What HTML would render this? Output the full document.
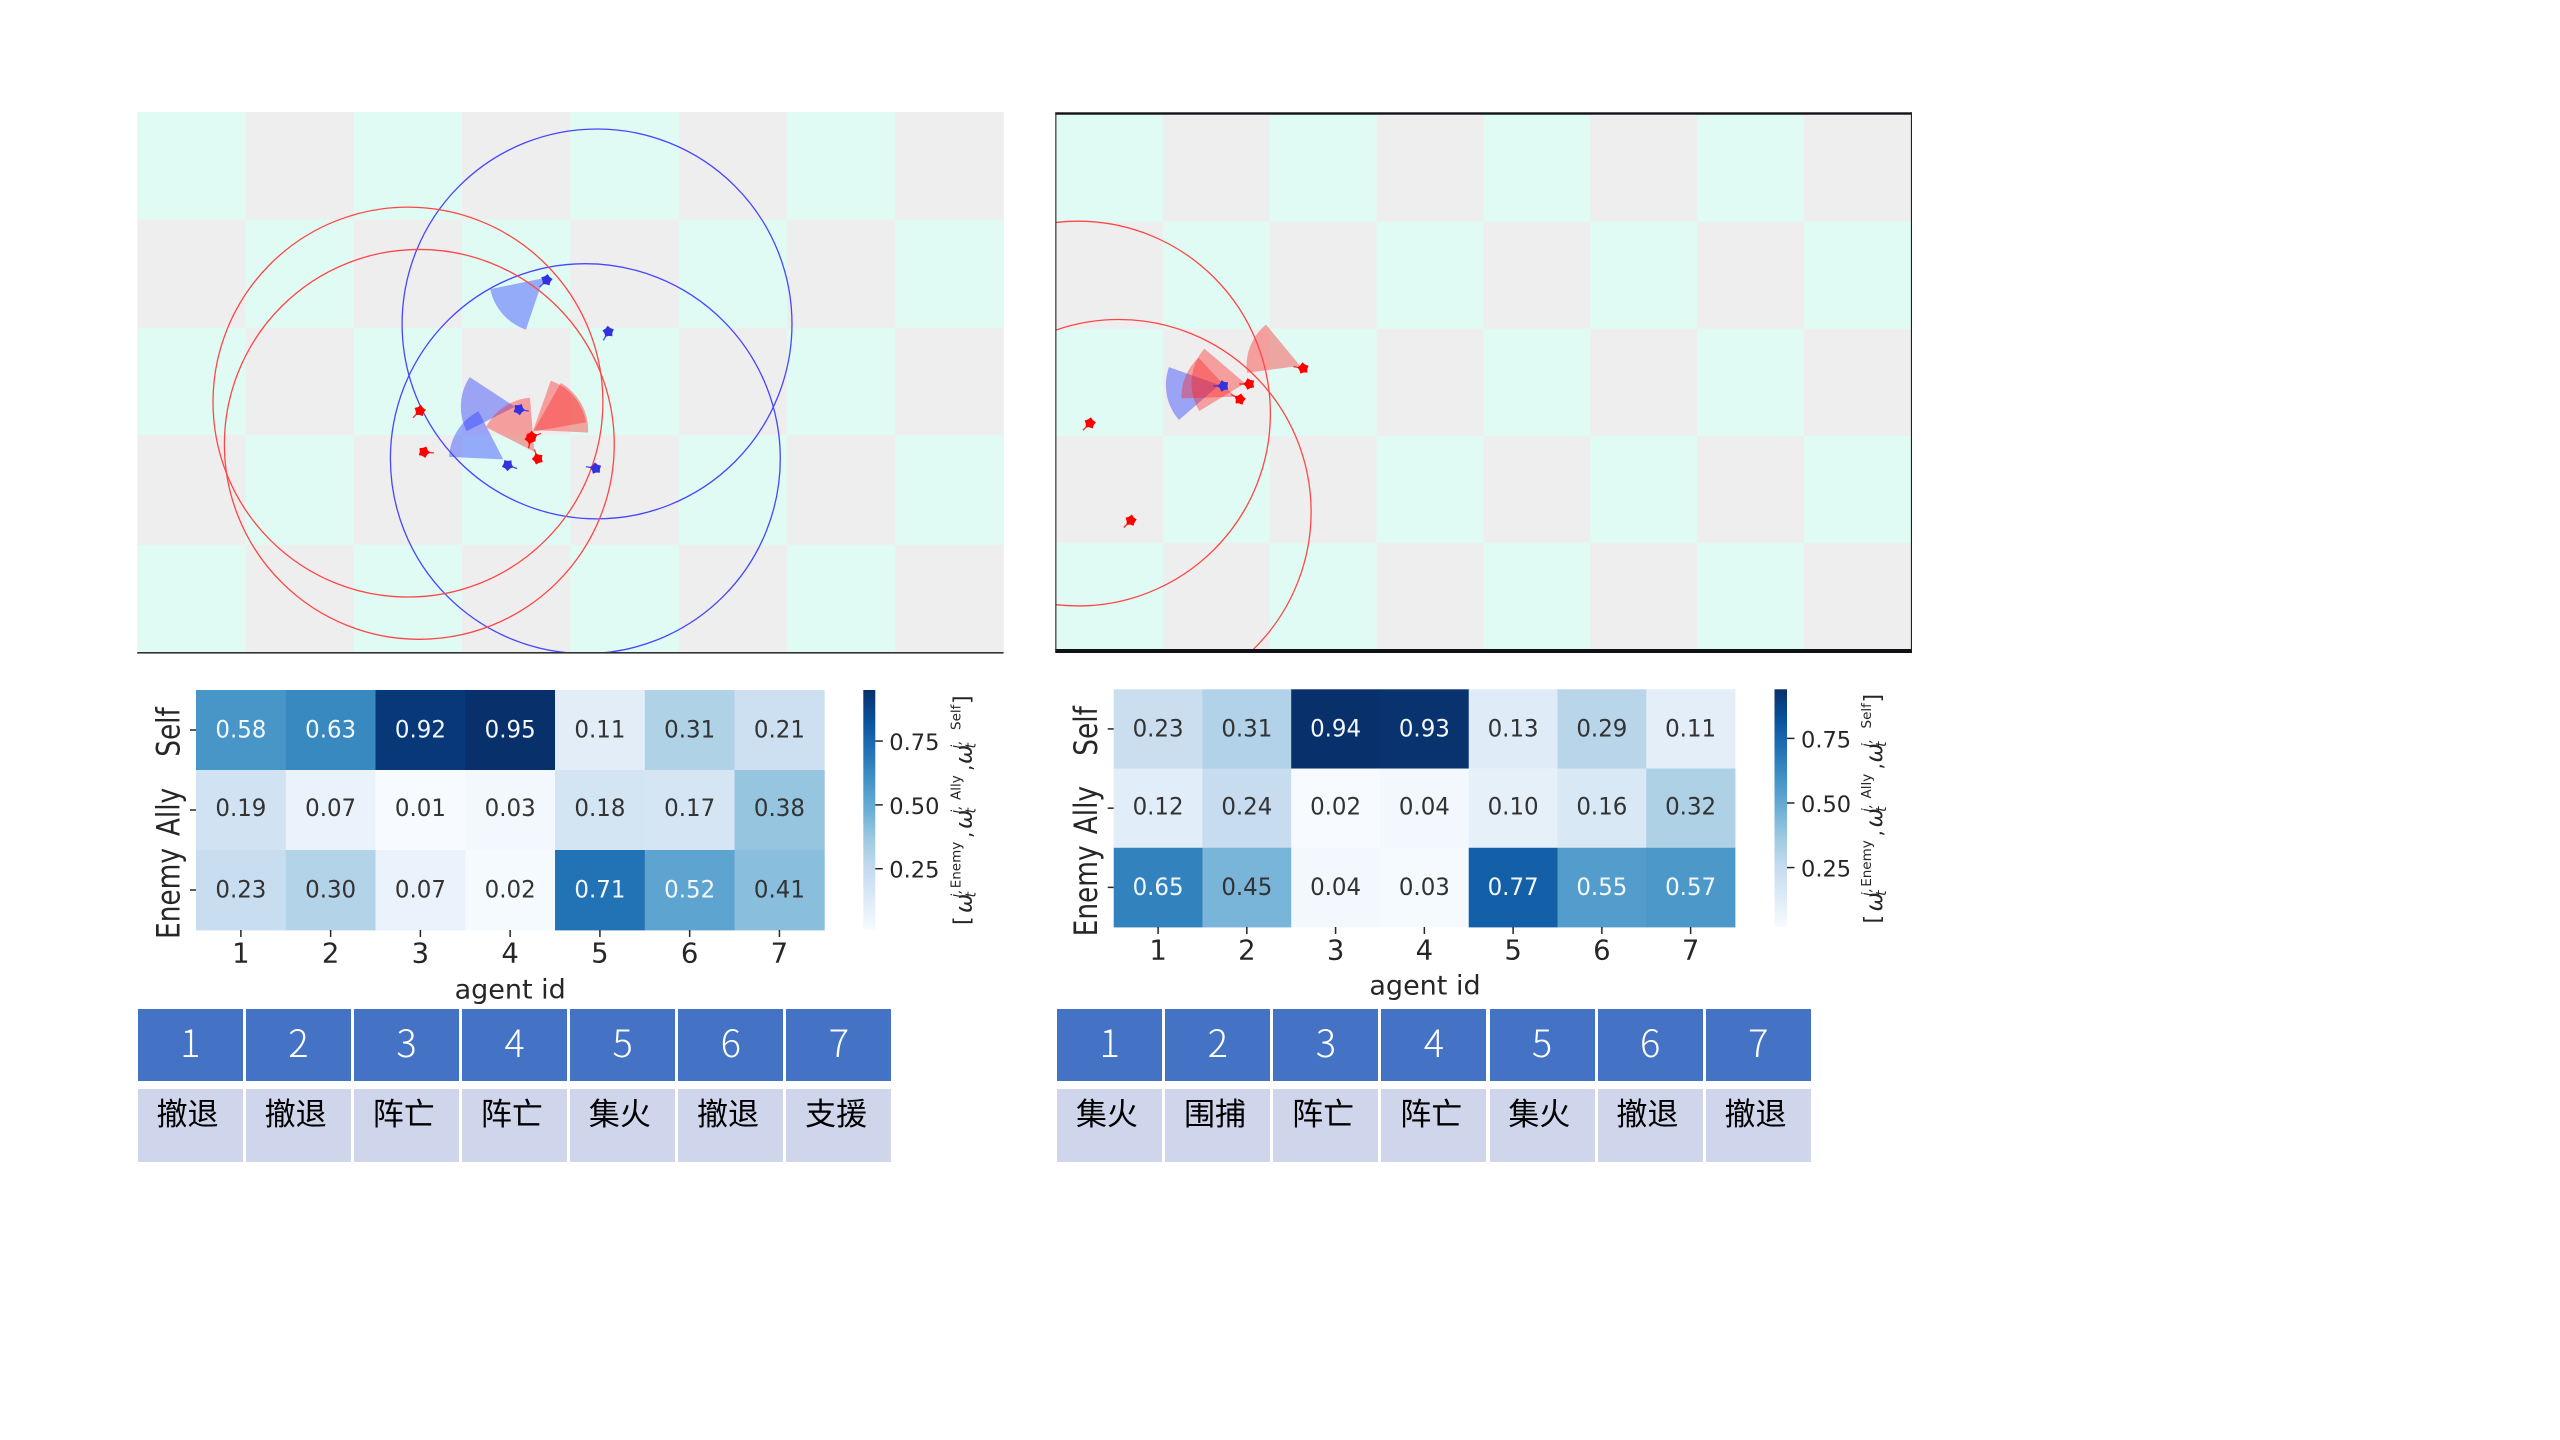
<!DOCTYPE html>
<html lang="zh">
<head>
<meta charset="utf-8">
<title>Agent attention heatmaps</title>
<style>
html,body{margin:0;padding:0;background:#fff;}
#page{position:relative;width:2560px;height:1440px;overflow:hidden;background:#fff;}
#stage{position:absolute;left:0;top:0;}
.tbl{position:absolute;top:1009px;display:grid;grid-template-columns:repeat(7,105px);grid-template-rows:72px 73px;column-gap:3.1px;row-gap:8px;}
.h{background:#4472C4;color:#fff;font:300 38px/64px "Noto Sans CJK SC","Liberation Sans",sans-serif;text-align:center;}
.b{background:#CFD5EA;color:#000;font:31px/46px "Noto Sans CJK SC","Liberation Sans",sans-serif;text-align:center;padding-right:5.5px;box-sizing:border-box;}
svg text{font-family:"DejaVu Sans",sans-serif;}
</style>
</head>
<body>
<div id="page">
<svg id="stage" width="2560" height="1440" viewBox="0 0 2560 1440" xmlns="http://www.w3.org/2000/svg">
  <defs>
    <clipPath id="clip-left"><rect x="137.2" y="112" width="866.4" height="540.6"/></clipPath>
    <clipPath id="clip-right"><rect x="1056" y="114.7" width="855" height="535"/></clipPath>
  </defs>
  <g id="left-map"></g>
  <g id="right-map"></g>
  <g id="left-heat"></g>
  <g id="right-heat"></g>

  <text x="510.2" y="998.5" font-size="27" text-anchor="middle" fill="#262626">agent id</text>
  <text x="1425" y="994.3" font-size="27" text-anchor="middle" fill="#262626">agent id</text>

  <g transform="translate(971.5,0) rotate(-90)" fill="#262626">
    <text x="-925" y="-2" font-size="22">[</text>
    <text x="-913" y="0" font-size="23" font-style="italic">ω</text>
    <text x="-897.5" y="4" font-size="14" font-style="italic">t</text>
    <text x="-897.5" y="-11" font-size="13.5" font-style="italic">i,</text>
    <text x="-888.3" y="-11" font-size="13.5">Enemy</text>
    <text x="-838" y="0" font-size="20">,</text>
    <text x="-829" y="0" font-size="23" font-style="italic">ω</text>
    <text x="-813.5" y="4" font-size="14" font-style="italic">t</text>
    <text x="-813.5" y="-11" font-size="13.5" font-style="italic">i,</text>
    <text x="-800" y="-11" font-size="13.5">Ally</text>
    <text x="-771" y="0" font-size="20">,</text>
    <text x="-764" y="0" font-size="23" font-style="italic">ω</text>
    <text x="-748.5" y="4" font-size="14" font-style="italic">t</text>
    <text x="-748.5" y="-11" font-size="13.5" font-style="italic">i,</text>
    <text x="-730" y="-11" font-size="13.5">Self</text>
    <text x="-704" y="-2" font-size="22">]</text>
  </g>
  <g transform="translate(1882.2,-1.5) rotate(-90)" fill="#262626">
    <text x="-925" y="-2" font-size="22">[</text>
    <text x="-913" y="0" font-size="23" font-style="italic">ω</text>
    <text x="-897.5" y="4" font-size="14" font-style="italic">t</text>
    <text x="-897.5" y="-11" font-size="13.5" font-style="italic">i,</text>
    <text x="-888.3" y="-11" font-size="13.5">Enemy</text>
    <text x="-838" y="0" font-size="20">,</text>
    <text x="-829" y="0" font-size="23" font-style="italic">ω</text>
    <text x="-813.5" y="4" font-size="14" font-style="italic">t</text>
    <text x="-813.5" y="-11" font-size="13.5" font-style="italic">i,</text>
    <text x="-800" y="-11" font-size="13.5">Ally</text>
    <text x="-771" y="0" font-size="20">,</text>
    <text x="-764" y="0" font-size="23" font-style="italic">ω</text>
    <text x="-748.5" y="4" font-size="14" font-style="italic">t</text>
    <text x="-748.5" y="-11" font-size="13.5" font-style="italic">i,</text>
    <text x="-730" y="-11" font-size="13.5">Self</text>
    <text x="-704" y="-2" font-size="22">]</text>
  </g>
</svg>

<div class="tbl" style="left:137.8px">
  <div class="h">1</div>
  <div class="h">2</div>
  <div class="h">3</div>
  <div class="h">4</div>
  <div class="h">5</div>
  <div class="h">6</div>
  <div class="h">7</div>
  <div class="b">撤退</div>
  <div class="b">撤退</div>
  <div class="b">阵亡</div>
  <div class="b">阵亡</div>
  <div class="b">集火</div>
  <div class="b">撤退</div>
  <div class="b">支援</div>
</div>
<div class="tbl" style="left:1057.2px">
  <div class="h">1</div>
  <div class="h">2</div>
  <div class="h">3</div>
  <div class="h">4</div>
  <div class="h">5</div>
  <div class="h">6</div>
  <div class="h">7</div>
  <div class="b">集火</div>
  <div class="b">围捕</div>
  <div class="b">阵亡</div>
  <div class="b">阵亡</div>
  <div class="b">集火</div>
  <div class="b">撤退</div>
  <div class="b">撤退</div>
</div>
</div>

<script>
// ---- heatmap data ----
const heatRowLabels = ['Self', 'Ally', 'Enemy'];
const agentIds = ['1', '2', '3', '4', '5', '6', '7'];
const leftSelf = [0.58, 0.63, 0.92, 0.95, 0.11, 0.31, 0.21];
const leftAlly = [0.19, 0.07, 0.01, 0.03, 0.18, 0.17, 0.38];
const leftEnemy = [0.23, 0.30, 0.07, 0.02, 0.71, 0.52, 0.41];
const rightSelf = [0.23, 0.31, 0.94, 0.93, 0.13, 0.29, 0.11];
const rightAlly = [0.12, 0.24, 0.02, 0.04, 0.10, 0.16, 0.32];
const rightEnemy = [0.65, 0.45, 0.04, 0.03, 0.77, 0.55, 0.57];
const colorbarTicks = [0.25, 0.50, 0.75];
const colorbarTickLabels = ['0.25', '0.50', '0.75'];
const bluesRamp = ['#f7fbff', '#deebf7', '#c6dbef', '#9ecae1', '#6baed6', '#4292c6', '#2171b5', '#08519c', '#08306b'];

// ---- battle map data, in map-cell units (8 x 5 grid) ----
const boardColumns = 8;
const boardRows = 5;
const sightRange = 1.8;
const attackRange = 0.5;

const leftBlueRingX = [4.246, 4.138];
const leftBlueRingY = [1.960, 3.206];
const leftRedRingX = [2.500, 2.605];
const leftRedRingY = [2.683, 3.074];
const leftBlueUnitX = [3.781, 4.350, 3.525, 3.421, 4.234];
const leftBlueUnitY = [1.554, 2.032, 2.750, 3.266, 3.296];
const leftBlueHeading = [135, 120, 10, 20, 190];
const leftRedUnitX = [2.611, 2.648, 3.643, 3.630, 3.698];
const leftRedUnitY = [2.763, 3.145, 3.004, 3.020, 3.207];
const leftRedHeading = [135, 5, -20, 100, 250];
const leftBlueArcX = [3.750, 3.488, 3.380];
const leftBlueArcY = [1.538, 2.726, 3.213];
const leftBlueArcFrom = [108.7, 153.3, 182.7];
const leftBlueArcTo = [168.5, 213.2, 242.8];
const leftRedArcX = [3.652, 3.664, 3.667];
const leftRedArcY = [2.957, 2.942, 3.142];
const leftRedArcFrom = [-70.5, -60.3, 206.9];
const leftRedArcTo = [-10.1, 2.5, 265.4];

const rightBlueRingX = [];
const rightBlueRingY = [];
const rightRedRingX = [0.206, 0.587];
const rightRedRingY = [2.793, 3.712];
const rightBlueUnitX = [1.565];
const rightBlueUnitY = [2.535];
const rightBlueHeading = [180];
const rightRedUnitX = [1.808, 1.721, 2.313, 0.318, 0.700];
const rightRedUnitY = [2.517, 2.660, 2.370, 2.883, 3.792];
const rightRedHeading = [180, 210, 190, 135, 135];
const rightBlueArcX = [1.528];
const rightBlueArcY = [2.526];
const rightBlueArcFrom = [139];
const rightBlueArcTo = [199.5];
const rightRedArcX = [1.674, 1.768, 2.283];
const rightRedArcY = [2.636, 2.510, 2.346];
const rightRedArcFrom = [178.2, 148.7, 172.4];
const rightRedArcTo = [227, 220.5, 230.5];

// ---- helpers ----
const NS = 'http://www.w3.org/2000/svg';
function mk(parent, tag, attrs) {
  const el = document.createElementNS(NS, tag);
  for (const k in attrs) el.setAttribute(k, attrs[k]);
  parent.appendChild(el);
  return el;
}
function hexRgb(h) {
  return [parseInt(h.slice(1, 3), 16), parseInt(h.slice(3, 5), 16), parseInt(h.slice(5, 7), 16)];
}
function blues(t) {
  const c = Math.max(0, Math.min(1, t)) * (bluesRamp.length - 1);
  const i = Math.min(Math.floor(c), bluesRamp.length - 2);
  const f = c - i;
  const a = hexRgb(bluesRamp[i]);
  const b = hexRgb(bluesRamp[i + 1]);
  return 'rgb(' + a.map((v, k) => Math.round(v + (b[k] - v) * f)).join(',') + ')';
}

// ---- heatmap ----
function drawHeatmap(root, box, rows, cbox, suffix) {
  const all = rows.flat();
  const vmin = Math.min.apply(null, all);
  const vmax = Math.max.apply(null, all);
  const cw = box.w / agentIds.length;
  const ch = box.h / heatRowLabels.length;
  const xScale = i => box.x + cw * i;
  const yScale = j => box.y + ch * j;
  const norm = v => (v - vmin) / (vmax - vmin);

  rows.forEach((row, j) => {
    row.forEach((v, i) => {
      const cell = mk(root, 'rect', {x: xScale(i), y: yScale(j), width: cw + 0.4, height: ch + 0.4, fill: blues(norm(v))});
      
      
    });
  });
  rows.forEach((row, j) => {
    row.forEach((v, i) => {
      const label = mk(root, 'text', {x: xScale(i) + cw / 2, y: yScale(j) + ch / 2 + (j === 1 ? 6.2 : 7.4), 'font-size': 24, 'text-anchor': 'middle', textLength: 51, lengthAdjust: 'spacingAndGlyphs', fill: norm(v) > 0.5 ? '#f4f8fc' : '#333333'});
      label.textContent = v.toFixed(2);
      
      
    });
  });
  agentIds.forEach((id, i) => {
    const cx = xScale(i) + cw / 2;
    const tick = mk(root, 'line', {x1: cx, x2: cx, y1: box.y + box.h, y2: box.y + box.h + 7, stroke: '#262626', 'stroke-width': 1.5});
    
    
    const label = mk(root, 'text', {x: cx, y: box.y + box.h + 32.3, 'font-size': 27.5, 'text-anchor': 'middle', fill: '#262626'});
    label.textContent = id;
    
    
  });
  heatRowLabels.forEach((name, j) => {
    const cy = yScale(j) + ch / 2;
    const tick = mk(root, 'line', {x1: box.x - 6, x2: box.x, y1: cy, y2: cy, stroke: '#262626', 'stroke-width': 1.5});
    
    
    const label = mk(root, 'text', {transform: 'translate(' + (box.x - 16.5) + ',' + (cy + (j === 2 ? 3.5 : 2)) + ') rotate(-90) scale(1,1.2)', 'font-size': 26.4, 'text-anchor': 'middle', fill: '#262626'});
    label.textContent = name;
    
    
  });

  // colorbar
  const gradId = 'cb-grad-' + suffix;
  const defs = mk(root, 'defs', {});
  const grad = mk(defs, 'linearGradient', {id: gradId, x1: 0, y1: 1, x2: 0, y2: 0});
  bluesRamp.forEach((c, i) => {
    mk(grad, 'stop', {offset: i / (bluesRamp.length - 1), 'stop-color': c});
  });
  const bar = mk(root, 'rect', {x: cbox.x, y: box.y, width: cbox.w, height: box.h, fill: 'url(#' + gradId + ')'});
  
  
  const cbY = v => box.y + box.h - norm(v) * box.h;
  colorbarTicks.forEach((v, i) => {
    const y = cbY(v);
    const tick = mk(root, 'line', {x1: cbox.x + cbox.w, x2: cbox.x + cbox.w + 7.5, y1: y, y2: y, stroke: '#262626', 'stroke-width': 1.5});
    
    
    const label = mk(root, 'text', {x: cbox.x + cbox.w + 14, y: y + 9, 'font-size': 22.5, fill: '#262626'});
    label.textContent = colorbarTickLabels[i];
    
    
  });
}

// ---- battle map ----
function drawMap(root, box, clipId, d) {
  const cw = box.w / boardColumns;
  const ch = box.h / boardRows;
  const xScale = v => box.x + v * cw;
  const yScale = v => box.y + v * ch;
  const tileY = r => box.rowEdges ? box.rowEdges[r] : yScale(r);

  for (let r = 0; r < boardRows; r++) {
    for (let c = 0; c < boardColumns; c++) {
      const tile = mk(root, 'rect', {x: xScale(c), y: tileY(r), width: cw + 0.3, height: tileY(r + 1) - tileY(r) + 0.3, fill: (r + c) % 2 === 0 ? '#E0FBF3' : '#EEEEEE'});
      
      
    }
  }
  const layer = mk(root, 'g', {'clip-path': 'url(#' + clipId + ')'});

  function arcs(xs, ys, from, to, fill) {
    xs.forEach((ax, i) => {
      const px = xScale(ax);
      const py = yScale(ys[i]);
      const rad = attackRange * cw;
      const a0 = from[i] * Math.PI / 180;
      const a1 = to[i] * Math.PI / 180;
      const path = 'M' + px + ' ' + py +
        'L' + (px + rad * Math.cos(a0)) + ' ' + (py + rad * Math.sin(a0)) +
        'A' + rad + ' ' + rad + ' 0 0 1 ' + (px + rad * Math.cos(a1)) + ' ' + (py + rad * Math.sin(a1)) + 'Z';
      const wedge = mk(layer, 'path', {d: path, fill: fill});
      
      
    });
  }
  function rings(xs, ys, color) {
    xs.forEach((cx, i) => {
      const ring = mk(layer, 'circle', {cx: xScale(cx), cy: yScale(ys[i]), r: sightRange * cw, fill: 'none', stroke: color, 'stroke-width': 1.3});
      
      
    });
  }
  function units(xs, ys, heading, color) {
    xs.forEach((ux, i) => {
      const px = xScale(ux);
      const py = yScale(ys[i]);
      const t = heading[i] * Math.PI / 180;
      let pts = '';
      for (let k = 0; k < 10; k++) {
        const rr = k % 2 === 0 ? 6 : 4.2;
        const ang = t + k * Math.PI / 5;
        pts += (px + rr * Math.cos(ang)).toFixed(1) + ',' + (py + rr * Math.sin(ang)).toFixed(1) + ' ';
      }
      const tail = mk(layer, 'line', {x1: px, y1: py, x2: px + 10 * Math.cos(t), y2: py + 10 * Math.sin(t), stroke: color, 'stroke-width': 1.4, opacity: 0.8});
      
      
      const unit = mk(layer, 'polygon', {points: pts, fill: color});
      
      
    });
  }
  arcs(d.blueArcX, d.blueArcY, d.blueArcFrom, d.blueArcTo, 'rgba(40,60,255,0.42)');
  arcs(d.redArcX, d.redArcY, d.redArcFrom, d.redArcTo, 'rgba(255,30,30,0.38)');
  rings(d.blueRingX, d.blueRingY, 'rgb(70,70,255)');
  rings(d.redRingX, d.redRingY, 'rgb(255,70,70)');
  units(d.blueUnitX, d.blueUnitY, d.blueHeading, 'rgb(50,50,225)');
  units(d.redUnitX, d.redUnitY, d.redHeading, 'rgb(255,0,0)');
}

const leftMapRoot = document.getElementById('left-map');
const rightMapRoot = document.getElementById('right-map');

drawMap(leftMapRoot, {x: 137.2, y: 112, w: 866.4, h: 540.6, rowEdges: [112, 219.5, 327.7, 435.2, 544.8, 652.6]}, 'clip-left', {
  blueRingX: leftBlueRingX, blueRingY: leftBlueRingY,
  redRingX: leftRedRingX, redRingY: leftRedRingY,
  blueUnitX: leftBlueUnitX, blueUnitY: leftBlueUnitY, blueHeading: leftBlueHeading,
  redUnitX: leftRedUnitX, redUnitY: leftRedUnitY, redHeading: leftRedHeading,
  blueArcX: leftBlueArcX, blueArcY: leftBlueArcY, blueArcFrom: leftBlueArcFrom, blueArcTo: leftBlueArcTo,
  redArcX: leftRedArcX, redArcY: leftRedArcY, redArcFrom: leftRedArcFrom, redArcTo: leftRedArcTo
});
const leftBaseline = mk(leftMapRoot, 'rect', {x: 137.2, y: 652, width: 866.4, height: 1.6, fill: '#333333'});



drawMap(rightMapRoot, {x: 1056, y: 114.7, w: 855, h: 535}, 'clip-right', {
  blueRingX: rightBlueRingX, blueRingY: rightBlueRingY,
  redRingX: rightRedRingX, redRingY: rightRedRingY,
  blueUnitX: rightBlueUnitX, blueUnitY: rightBlueUnitY, blueHeading: rightBlueHeading,
  redUnitX: rightRedUnitX, redUnitY: rightRedUnitY, redHeading: rightRedHeading,
  blueArcX: rightBlueArcX, blueArcY: rightBlueArcY, blueArcFrom: rightBlueArcFrom, blueArcTo: rightBlueArcTo,
  redArcX: rightRedArcX, redArcY: rightRedArcY, redArcFrom: rightRedArcFrom, redArcTo: rightRedArcTo
});
const rightTop = mk(rightMapRoot, 'rect', {x: 1055.3, y: 112.3, width: 856.7, height: 2.4, fill: '#101018'});


const rightBottom = mk(rightMapRoot, 'rect', {x: 1055.3, y: 649, width: 856.7, height: 4, fill: '#101018'});


const rightLeft = mk(rightMapRoot, 'rect', {x: 1055.3, y: 112.3, width: 1.1, height: 540, fill: '#222222'});


const rightRight = mk(rightMapRoot, 'rect', {x: 1910.9, y: 112.3, width: 1.1, height: 540, fill: '#222222'});



drawHeatmap(document.getElementById('left-heat'), {x: 196, y: 690, w: 628.3, h: 240}, [leftSelf, leftAlly, leftEnemy], {x: 863.3, w: 12}, 'left');
drawHeatmap(document.getElementById('right-heat'), {x: 1113.7, y: 689.3, w: 621.3, h: 237.7}, [rightSelf, rightAlly, rightEnemy], {x: 1774.5, w: 12.5}, 'right');
</script>
</body>
</html>
